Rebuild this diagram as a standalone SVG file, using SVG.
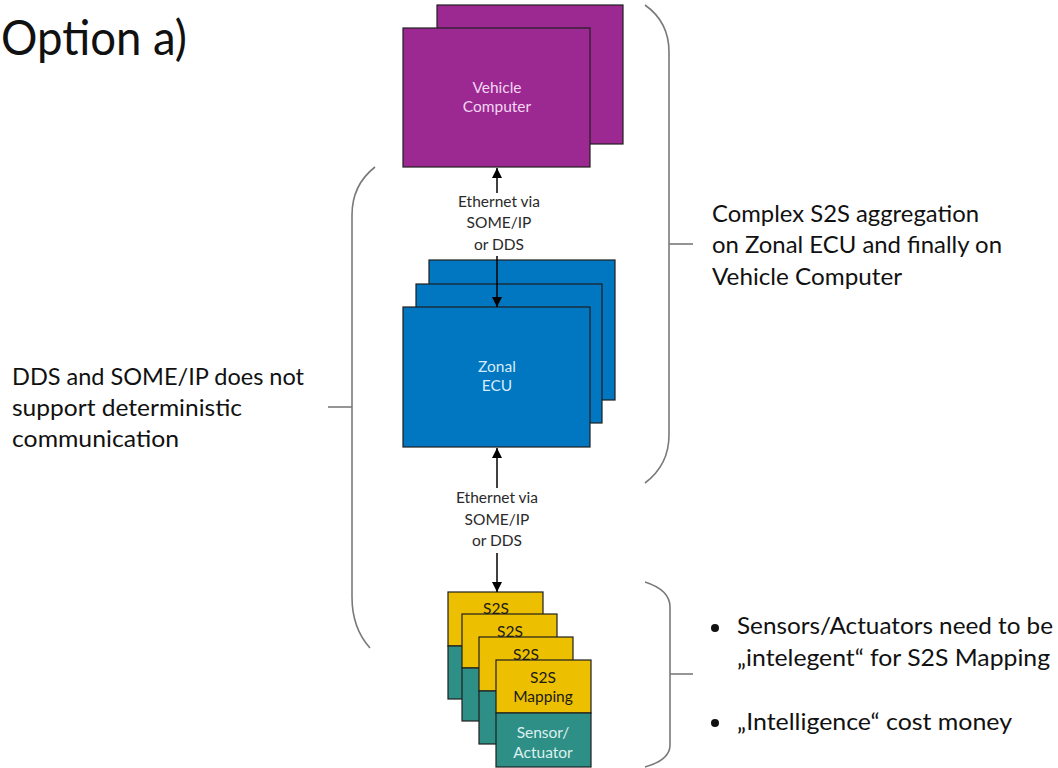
<svg xmlns="http://www.w3.org/2000/svg" width="1058" height="768" viewBox="0 0 1058 768">
<style>
.box{stroke:#1e1e1e;stroke-width:1.2}
.veh{fill:#9c2892}
.zon{fill:#0077c0}
.yel{fill:#ecc000}
.tea{fill:#2e8f86}
.brk{fill:none;stroke:#7a7a7a;stroke-width:1.6}
.con{stroke:#000;stroke-width:1.5;fill:none}
text{font-family:Lato,"Open Sans","Liberation Sans",sans-serif}
.big{font-size:23px;fill:#111}
.sm{font-size:15.5px;text-anchor:middle}
.lbl{fill:#2a2a2a}
.vt{fill:#f3d6f1}
.zt{fill:#d6ebf9}
.st{fill:#1a1a1a}
.tt{fill:#ddf0ee}
</style>
<defs>
<marker id="ah" viewBox="0 0 10 10" refX="10" refY="5" markerWidth="10" markerHeight="10" markerUnits="userSpaceOnUse" orient="auto">
<path d="M0,0 L10,5 L0,10 z" fill="#000"/>
</marker>
</defs>
<rect width="1058" height="768" fill="#fff"/>
<text x="1" y="55" font-size="48" fill="#111" textLength="186" lengthAdjust="spacingAndGlyphs">Option a)</text>

<g id="vehicle-computer">
<rect class="box veh" x="437" y="5" width="186" height="139"/>
<rect class="box veh" x="403" y="28" width="187" height="139"/>
<text class="sm vt" x="497" y="93">Vehicle</text>
<text class="sm vt" x="497" y="112">Computer</text>
</g>

<g id="zonal-ecu">
<rect class="box zon" x="429" y="260" width="186" height="140"/>
<rect class="box zon" x="416" y="284" width="186" height="139"/>
<rect class="box zon" x="403" y="307" width="187" height="140"/>
<text class="sm zt" x="497" y="372">Zonal</text>
<text class="sm zt" x="497" y="391">ECU</text>
</g>

<g id="s2s-card-1">
<rect class="box yel" x="448" y="592" width="95" height="54"/>
<rect class="box tea" x="448" y="646" width="95" height="53"/>
<text class="sm st" x="496" y="614">S2S</text>
</g>
<g id="s2s-card-2">
<rect class="box yel" x="462" y="614" width="95" height="54"/>
<rect class="box tea" x="462" y="668" width="95" height="53"/>
<text class="sm st" x="510" y="637">S2S</text>
</g>
<g id="s2s-card-3">
<rect class="box yel" x="479" y="637" width="94" height="54"/>
<rect class="box tea" x="479" y="691" width="94" height="53"/>
<text class="sm st" x="526" y="660">S2S</text>
</g>
<g id="s2s-card-4">
<rect class="box yel" x="496" y="660" width="95" height="53"/>
<rect class="box tea" x="496" y="713" width="95" height="54"/>
<text class="sm st" x="543" y="683">S2S</text>
<text class="sm st" x="543" y="702">Mapping</text>
<text class="sm tt" x="543" y="738">Sensor/</text>
<text class="sm tt" x="543" y="758">Actuator</text>
</g>

<g id="connectors">
<line class="con" x1="497" y1="193" x2="497" y2="168" marker-end="url(#ah)"/>
<line class="con" x1="497" y1="256" x2="497" y2="307" marker-end="url(#ah)"/>
<line class="con" x1="497" y1="488" x2="497" y2="448" marker-end="url(#ah)"/>
<line class="con" x1="497" y1="553" x2="497" y2="592" marker-end="url(#ah)"/>
<text class="sm lbl" x="499" y="207">Ethernet via</text>
<text class="sm lbl" x="499" y="228">SOME/IP</text>
<text class="sm lbl" x="499" y="250">or DDS</text>
<text class="sm lbl" x="497" y="503">Ethernet via</text>
<text class="sm lbl" x="497" y="525">SOME/IP</text>
<text class="sm lbl" x="497" y="546">or DDS</text>
</g>

<g id="bracket-left">
<path class="brk" d="M375,167 Q352,185 352,215 L352,597 Q352,628 370,648"/>
<path class="brk" d="M328,407 L352,407"/>
<text class="big" x="12" y="385" textLength="292" lengthAdjust="spacingAndGlyphs">DDS and SOME/IP does not</text>
<text class="big" x="12" y="416" textLength="230" lengthAdjust="spacingAndGlyphs">support deterministic</text>
<text class="big" x="12" y="447" textLength="167" lengthAdjust="spacingAndGlyphs">communication</text>
</g>

<g id="bracket-right-top">
<path class="brk" d="M645,5 Q669,22 669,52 L669,435 Q669,465 645,483"/>
<path class="brk" d="M669,244 L693,244"/>
<text class="big" x="712" y="222" textLength="267" lengthAdjust="spacingAndGlyphs">Complex S2S aggregation</text>
<text class="big" x="712" y="253" textLength="290" lengthAdjust="spacingAndGlyphs">on Zonal ECU and finally on</text>
<text class="big" x="712" y="285" textLength="190" lengthAdjust="spacingAndGlyphs">Vehicle Computer</text>
</g>

<g id="bracket-right-bottom">
<path class="brk" d="M645,582 Q670,590 670,607 L670,745 Q670,760 645,767"/>
<path class="brk" d="M670,674 L693,674"/>
<circle cx="715" cy="628" r="4" fill="#111"/>
<circle cx="715" cy="723" r="4" fill="#111"/>
<text class="big" x="737" y="634" textLength="316" lengthAdjust="spacingAndGlyphs">Sensors/Actuators need to be</text>
<text class="big" x="737" y="666" textLength="313" lengthAdjust="spacingAndGlyphs">„intelegent“ for S2S Mapping</text>
<text class="big" x="737" y="730" textLength="275" lengthAdjust="spacingAndGlyphs">„Intelligence“ cost money</text>
</g>
</svg>
